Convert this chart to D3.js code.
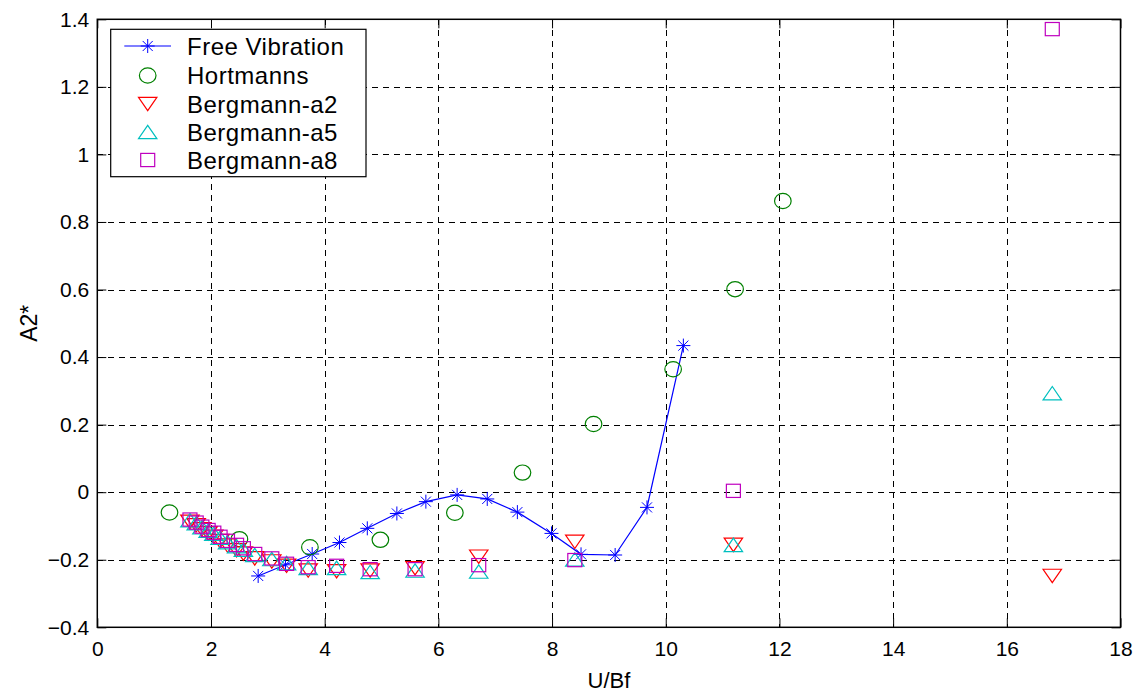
<!DOCTYPE html>
<html>
<head>
<meta charset="utf-8">
<script src="https://cdn.jsdelivr.net/npm/d3@7"></script>
<style>
  html, body { margin: 0; padding: 0; background: #fff; }
  text { font-family: "Liberation Sans", Arial, sans-serif; fill: #000; }
</style>
</head>
<body>
<svg id="chart" width="1146" height="697"></svg>
<script>
// Free vibration test
const freeX = [2.83, 3.31, 3.78, 4.26, 4.75, 5.27, 5.78, 6.33, 6.86, 7.39, 7.99, 8.51, 9.11, 9.67, 10.31];
const freeY = [-0.248, -0.215, -0.183, -0.149, -0.107, -0.063, -0.028, -0.008, -0.020, -0.059, -0.122, -0.184, -0.186, -0.045, 0.434];

// Hortmanns
const hortX = [1.27, 2.50, 3.74, 4.98, 6.29, 7.48, 8.73, 10.13, 11.22, 12.06];
const hortY = [-0.060, -0.139, -0.163, -0.141, -0.061, 0.058, 0.202, 0.364, 0.601, 0.862];

// Bergmann (shared U/Bf values)
const bergX = [1.63, 1.74, 1.84, 1.95, 2.05, 2.16, 2.29, 2.45, 2.57, 2.77, 3.07, 3.33, 3.71, 4.21, 4.80, 5.59, 6.71, 8.40, 11.19, 16.80];
const bergA2 = [-0.088, -0.098, -0.110, -0.122, -0.132, -0.145, -0.158, -0.172, -0.182, -0.196, -0.205, -0.218, -0.232, -0.234, -0.232, -0.225, -0.191, -0.147, -0.156, -0.248];
const bergA5 = [-0.083, -0.092, -0.104, -0.114, -0.123, -0.135, -0.148, -0.160, -0.170, -0.186, -0.198, -0.210, -0.224, -0.224, -0.236, -0.232, -0.235, -0.199, -0.156, 0.293];
const bergA8 = [-0.081, -0.090, -0.102, -0.112, -0.120, -0.132, -0.144, -0.156, -0.166, -0.183, -0.196, -0.212, -0.222, -0.218, -0.228, -0.228, -0.216, -0.201, 0.004, 1.371];

const xTicks = [0, 2, 4, 6, 8, 10, 12, 14, 16, 18];
const yTicks = [-0.4, -0.2, 0, 0.2, 0.4, 0.6, 0.8, 1, 1.2, 1.4];

const legendNames = ["Free Vibration", "Hortmanns", "Bergmann-a2", "Bergmann-a5", "Bergmann-a8"];

const svg = d3.select("#chart");
const W = 1146, H = 697;
const m = { left: 97.3, top: 19.3, right: 1120.5, bottom: 627.3 };

const x = d3.scaleLinear().domain([0, 18]).range([m.left, m.right]);
const y = d3.scaleLinear().domain([-0.4, 1.4]).range([m.bottom, m.top]);

svg.append("rect").attr("width", W).attr("height", H).attr("fill", "#fff");

// grid
const grid = svg.append("g").attr("stroke", "#000").attr("stroke-width", 1)
  .attr("stroke-dasharray", "6,5").attr("shape-rendering", "crispEdges");
grid.selectAll(".gx").data(xTicks.slice(1, -1)).join("line")
  .attr("x1", d => Math.round(x(d)) + 0.5).attr("x2", d => Math.round(x(d)) + 0.5)
  .attr("y1", m.top).attr("y2", m.bottom);
grid.selectAll(".gy").data(yTicks.slice(1, -1)).join("line")
  .attr("y1", d => Math.round(y(d)) + 0.5).attr("y2", d => Math.round(y(d)) + 0.5)
  .attr("x1", m.left).attr("x2", m.right);

// axes with inward ticks
const fmt = d => d3.format("")(+d.toFixed(1));
const axB = svg.append("g").attr("transform", `translate(0,${m.bottom})`)
  .call(d3.axisBottom(x).tickValues(xTicks).tickSize(-9).tickPadding(14).tickFormat(fmt));
const axL = svg.append("g").attr("transform", `translate(${m.left},0)`)
  .call(d3.axisLeft(y).tickValues(yTicks).tickSize(-9).tickPadding(8).tickFormat(fmt));
const axT = svg.append("g").attr("transform", `translate(0,${m.top})`)
  .call(d3.axisTop(x).tickValues(xTicks).tickSize(-9).tickFormat(""));
const axR = svg.append("g").attr("transform", `translate(${m.right},0)`)
  .call(d3.axisRight(y).tickValues(yTicks).tickSize(-9).tickFormat(""));
[axB, axL, axT, axR].forEach(g => {
  g.select(".domain").remove();
  g.selectAll(".tick line").attr("stroke", "#000").attr("stroke-width", 1);
  g.selectAll("text").style("font-family", '"Liberation Sans", Arial, sans-serif')
    .style("font-size", "21px").attr("fill", "#000");
});
axB.selectAll("text").attr("dy", "0.71em");

svg.append("rect").attr("x", m.left).attr("y", m.top)
  .attr("width", m.right - m.left).attr("height", m.bottom - m.top)
  .attr("fill", "none").attr("stroke", "#000").attr("stroke-width", 1.5);

// axis titles
svg.append("text").attr("x", (m.left + m.right) / 2).attr("y", 688)
  .attr("text-anchor", "middle").style("font-size", "22px").text("U/Bf");
svg.append("text").attr("transform", `translate(37,${(m.top + m.bottom) / 2}) rotate(-90)`)
  .attr("text-anchor", "middle").style("font-size", "23px").text("A2*");

// marker shapes
const colors = { blue: "#0000ff", green: "#008000", red: "#ff0000", cyan: "#00bfbf", magenta: "#bf00bf" };
function star(g, cx, cy, c) {
  const r = 7, d = r * 0.72;
  g.append("path").attr("d",
    `M${cx - r},${cy}H${cx + r}M${cx},${cy - r}V${cy + r}M${cx - d},${cy - d}L${cx + d},${cy + d}M${cx - d},${cy + d}L${cx + d},${cy - d}`)
    .attr("stroke", c).attr("stroke-width", 1).attr("fill", "none");
}
function circle(g, cx, cy, c) {
  g.append("ellipse").attr("cx", cx).attr("cy", cy).attr("rx", 8.3).attr("ry", 7.6)
    .attr("fill", "none").attr("stroke", c).attr("stroke-width", 1.2);
}
function triDown(g, cx, cy, c) {
  const w = 9.2, h = 6.7;
  g.append("path").attr("d", `M${cx - w},${cy - h}L${cx + w},${cy - h}L${cx},${cy + h}Z`)
    .attr("fill", "none").attr("stroke", c).attr("stroke-width", 1.2);
}
function triUp(g, cx, cy, c) {
  const w = 9.2, h = 6.7;
  g.append("path").attr("d", `M${cx - w},${cy + h}L${cx + w},${cy + h}L${cx},${cy - h}Z`)
    .attr("fill", "none").attr("stroke", c).attr("stroke-width", 1.2);
}
function square(g, cx, cy, c) {
  g.append("rect").attr("x", cx - 7).attr("y", cy - 6.6).attr("width", 14).attr("height", 13.2)
    .attr("fill", "none").attr("stroke", c).attr("stroke-width", 1.2);
}

const plot = svg.append("g");

// free vibration curve
const freeData = freeX.map((v, i) => [v, freeY[i]]);
plot.append("path").datum(freeData)
  .attr("d", d3.line().x(d => x(d[0])).y(d => y(d[1])))
  .attr("fill", "none").attr("stroke", colors.blue).attr("stroke-width", 1.2);
freeData.forEach(d => star(plot, x(d[0]), y(d[1]), colors.blue));

hortX.forEach((v, i) => circle(plot, x(v), y(hortY[i]), colors.green));
bergX.forEach((v, i) => triDown(plot, x(v), y(bergA2[i]), colors.red));
bergX.forEach((v, i) => triUp(plot, x(v), y(bergA5[i]), colors.cyan));
bergX.forEach((v, i) => square(plot, x(v), y(bergA8[i]), colors.magenta));

// legend
const lg = svg.append("g");
lg.append("rect").attr("x", 110.7).attr("y", 29.3).attr("width", 255.3).attr("height", 147.4)
  .attr("fill", "#fff").attr("stroke", "#000").attr("stroke-width", 1.2);
const rowY = [46, 75.5, 104, 132, 160];
const painters = [
  (cx, cy) => {
    lg.append("line").attr("x1", 124.3).attr("x2", 171).attr("y1", cy).attr("y2", cy)
      .attr("stroke", colors.blue).attr("stroke-width", 1.2);
    star(lg, cx, cy, colors.blue);
  },
  (cx, cy) => circle(lg, cx, cy, colors.green),
  (cx, cy) => triDown(lg, cx, cy, colors.red),
  (cx, cy) => triUp(lg, cx, cy, colors.cyan),
  (cx, cy) => square(lg, cx, cy, colors.magenta)
];
legendNames.forEach((name, i) => {
  painters[i](147.7, rowY[i]);
  lg.append("text").attr("x", 187).attr("y", rowY[i]).attr("dy", "0.36em")
    .style("font-size", "24px").style("letter-spacing", "0.5px").text(name);
});
</script>
</body>
</html>
